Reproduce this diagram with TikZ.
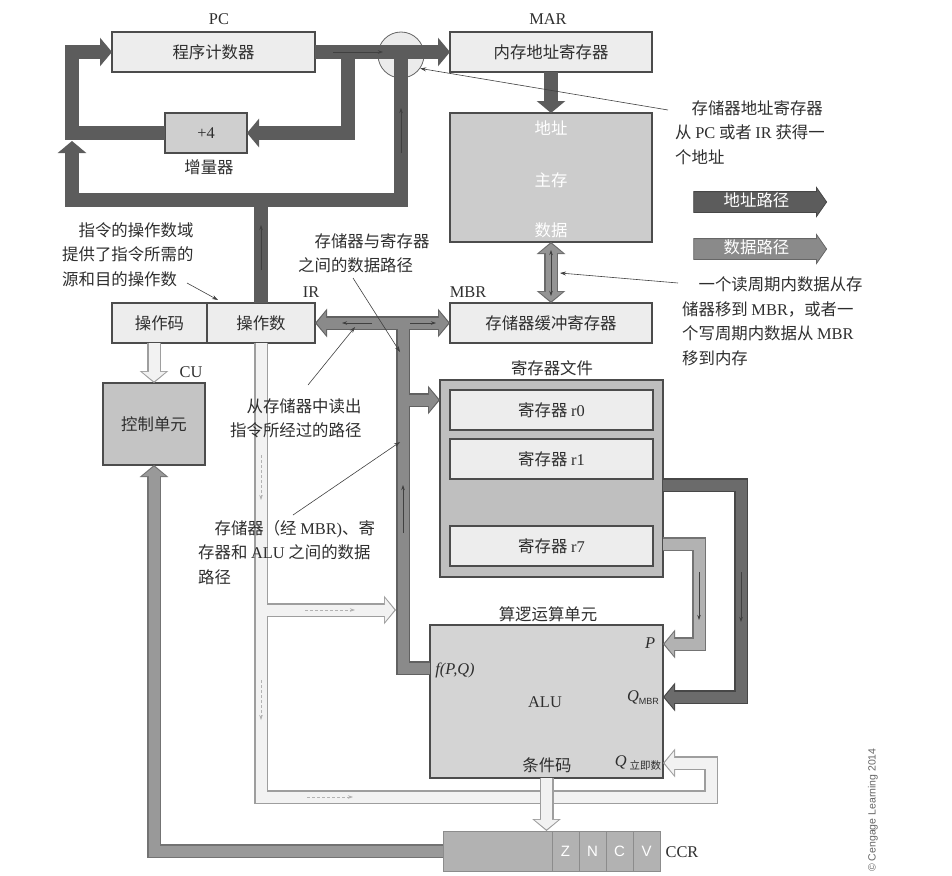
\documentclass[tikz,border=0pt]{standalone}
\usepackage{fontspec}
\setmainfont{Noto Sans CJK SC}
\newfontfamily\latfont{Liberation Serif}
\newfontfamily\sanslat{Liberation Sans}
\usetikzlibrary{arrows.meta, positioning, calc, shapes.arrows}

\begin{document}
\begin{tikzpicture}[
    x=1pt, y=-1pt,
    every node/.style = {font=\fontsize{16.4}{24.5}\selectfont, text=black!82, inner sep=0pt},
    box/.style      = {draw=black!70, line width=1.1pt, fill=black!7, outer sep=0pt},
    gbox/.style     = {box, fill=black!20},
    tag/.style      = {font=\fontsize{16.4}{24.5}\selectfont\latfont},
    note/.style     = {align=left, anchor=north west},
    cell/.style     = {draw=black!45, line width=0.6pt, fill=black!30, outer sep=0pt,
                       minimum width=27pt, minimum height=40pt, text=white,
                       font=\fontsize{15}{15}\selectfont\sanslat},
    abus/.style     = {line width=14pt, draw=black!64, >={Triangle[length=12pt,width=28pt]}, ->},
    busout/.style   = {line width=14pt, draw=#1, >={Triangle[length=12pt,width=28pt]}, ->},
    busin/.style    = {line width=11pt, draw=#1, shorten >=1.6pt,
                       >={Triangle[length=9.5pt,width=23pt]}, ->},
    flowmark/.style = {draw=black!75, line width=0.7pt, >={Stealth[length=5pt,width=3.5pt]}, ->},
    flowlite/.style = {flowmark, draw=black!30, densely dashed},
    callout/.style  = {draw=black!75, line width=0.6pt, -{Stealth[length=6pt,width=4pt]}},
    legend/.style   = {single arrow, single arrow head extend=4pt, single arrow tip angle=110,
                       minimum height=133pt, text height=11pt, text depth=2pt,
                       inner ysep=3.5pt, line width=0.8pt, text=white},
]
\useasboundingbox (0,0) rectangle (952,875);

%% Registers and units
\node[box, minimum width=203pt, minimum height=40pt] (pc)  at (213.5,52) {程序计数器};
\node[tag] (pctag) at (219,19) {PC};
\node[box, minimum width=202pt, minimum height=40pt] (mar) at (551,52) {内存地址寄存器};
\node[tag] (martag) at (548,19) {MAR};
\node[circle, draw=black!60, line width=0.8pt, fill=black!8, minimum size=46pt] (mux) at (401,55) {};
\node[gbox, fill=black!19, minimum width=82pt, minimum height=40pt] (inc) at (206,133) {\latfont +4};
\node (inctag) at (209,167) {增量器};

\node[gbox, minimum width=202pt, minimum height=129pt] (mem) at (551,177.5) {};
\node[text=white] (memaddr) at (551,128) {地址};
\node[text=white] (memmain) at (551,180) {主存};
\node[text=white] (memdata) at (551,230) {数据};

\node[box, minimum width=95pt, minimum height=40pt] (opc) at (159.5,323) {操作码};
\node[box, minimum width=108pt, minimum height=40pt, right=0pt of opc] (opd) {操作数};
\node[tag] (irtag) at (311,292) {IR};
\node[box, minimum width=202pt, minimum height=40pt] (mbr) at (551,323) {存储器缓冲寄存器};
\node[tag] (mbrtag) at (468,292) {MBR};

\node[gbox, fill=black!23, minimum width=102pt, minimum height=82pt] (cu) at (154,424) {控制单元};
\node[tag] (cutag) at (191,372) {CU};

\node[gbox, fill=black!25, minimum width=223pt, minimum height=197pt] (rf) at (551.5,478.5) {};
\node (rftag) at (552,368) {寄存器文件};
\node[box, minimum width=203pt, minimum height=40pt] (r0) at (551.5,410) {寄存器 {\latfont r0}};
\node[box, minimum width=203pt, minimum height=40pt] (r1) at (551.5,459) {寄存器 {\latfont r1}};
\node[box, minimum width=203pt, minimum height=40pt] (r7) at (551.5,546) {寄存器 {\latfont r7}};

\node[gbox, fill=black!17, minimum width=233pt, minimum height=153pt] (alu) at (546.5,701.5) {};
\node (alutag) at (548,614) {算逻运算单元};
\node[tag] (alutext) at (545,702) {ALU};
\node (alufpq) at (455,670) {\latfont\itshape f(P,Q)};
\node (alup) at (650,643) {\latfont\itshape P};
\node (aluqm) at (643,698) {{\latfont\itshape Q}\raisebox{-3pt}{\fontsize{9}{9}\selectfont\sanslat MBR}};
\node (aluqi) at (638,763) {{\latfont\itshape Q}\,\raisebox{-3pt}{\fontsize{10.5}{10.5}\selectfont 立即数}};
\node (alucc) at (547,765) {条件码};

\node[draw=black!45, line width=0.6pt, fill=black!30, outer sep=0pt,
      minimum width=217pt, minimum height=40pt] (ccr) at (551.5,851) {};
\node[cell] (flagz) at (565.5,851) {Z};
\node[cell] (flagn) at (592.5,851) {N};
\node[cell] (flagc) at (619.5,851) {C};
\node[cell] (flagv) at (646.5,851) {V};
\node[tag] (ccrtag) at (682,852) {CCR};

%% Legend
\node[legend, fill=black!64, draw=black!72] (lgaddr) at (756.5,202) {地址路径};
\node[legend, fill=black!46, draw=black!60] (lgdata) at (756.5,249) {数据路径};

%% Bus junctions
\coordinate (jinc)  at (348,52);
\coordinate (jleft) at (72,133);
\coordinate (jup)   at (72,141);
\coordinate (jir)   at (261,200);
\coordinate (jmux)  at (401,200);
\coordinate (jv)    at (403,323);
\coordinate (jrf)   at (403,400);
\coordinate (jfpq)  at (403,668);
\coordinate (jq1)   at (741,485);
\coordinate (jq2)   at (741,697);
\coordinate (jp1)   at (699,544);
\coordinate (jp2)   at (699,644);
\coordinate (jcu)   at (154,851);
\coordinate (jl1)   at (261,610);
\coordinate (jl2)   at (261,797);
\coordinate (jl3)   at (711,797);
\coordinate (jl4)   at (711,763);
\coordinate (jl5)   at (396,610);

%% Address paths
\draw[abus] (pc.east) -- (mar.west);
\draw[abus] (jinc) -- (jinc |- inc.east) -- (inc.east);
\draw[abus] (inc.west) -- (jleft) -- (jleft |- pc.west) -- (pc.west);
\draw[abus, -] (opd.north) -- (jir) -- (jmux) -- (jmux |- pc.east);
\draw[abus] (jir) -- (jir -| jup) -- (jup);
\draw[abus] (mar.south) -- (mem.north);

%% Data paths: outline first, then inside
\draw[busout=black!62, -] (alu.west |- jfpq) -- (jfpq) -- (jv);
\draw[busout=black!62, <->] (opd.east) -- (mbr.west);
\draw[busout=black!62] (jrf) -- (jrf -| rf.west);
\draw[busout=black!58, <->] (mem.south) -- (mbr.north);
\draw[busout=black!72] (rf.east |- jq1) -- (jq1) -- (jq2) -- (jq2 -| alu.east);
\draw[busout=black!55] (rf.east |- jp1) -- (jp1) -- (jp2) -- (jp2 -| alu.east);
\draw[busout=black!55] (ccr.west) -- (jcu) -- (cu.south);

\draw[busin=black!46, -] (alu.west |- jfpq) -- (jfpq) -- (jv);
\draw[busin=black!46, <->, shorten <=1.6pt] (opd.east) -- (mbr.west);
\draw[busin=black!46] (jrf) -- (jrf -| rf.west);
\draw[busin=black!42, <->, shorten <=1.6pt] (mem.south) -- (mbr.north);
\draw[busin=black!58] (rf.east |- jq1) -- (jq1) -- (jq2) -- (jq2 -| alu.east);
\draw[busin=black!30] (rf.east |- jp1) -- (jp1) -- (jp2) -- (jp2 -| alu.east);
\draw[busin=black!40] (ccr.west) -- (jcu) -- (cu.south);

%% Light paths (operand, control, condition code)
\draw[busout=black!38] (opd.south) -- (jl2) -- (jl3) -- (jl4) -- (jl4 -| alu.east);
\draw[busout=black!38] (jl1) -- (jl5);
\draw[busout=black!38] (cu.north |- opc.south) -- (cu.north);
\draw[busin=black!5] (opd.south) -- (jl2) -- (jl3) -- (jl4) -- (jl4 -| alu.east);
\draw[busin=black!5] (jl1) -- (jl5);
\draw[busin=black!5] (cu.north |- opc.south) -- (cu.north);
\draw[busout=black!38] (alu.south) -- (alu.south |- ccr.north);
\draw[busin=black!5] (alu.south) -- (alu.south |- ccr.north);

%% Direction marks inside the paths
\draw[flowmark] (jinc) ++(-15,0) -- ++(50,0);
\draw[flowmark] (jmux) ++(0,-47) -- ++(0,-45);
\draw[flowmark] (jir) ++(0,70) -- ++(0,-45);
\draw[flowmark] (opd.east) ++(57,0) -- ++(-30,0);
\draw[flowmark] (jv) ++(7,0) -- ++(26,0);
\draw[flowmark] (jfpq) ++(0,-135) -- ++(0,-48);
\draw[flowmark] (jp1) ++(0,28) -- ++(0,48);
\draw[flowmark] (jq1) ++(0,87) -- ++(0,50);
\draw[flowmark, <->] (mem.south) ++(0,8) -- ++(0,46);
\draw[flowlite] (jl1) ++(0,-155) -- ++(0,45);
\draw[flowlite] (jl1) ++(0,70) -- ++(0,40);
\draw[flowlite] (jl1) ++(44,0) -- ++(50,0);
\draw[flowlite] (jl2) ++(46,0) -- ++(46,0);

%% Notes
\node[note] (n1) at (675,100) {\hspace*{1em}存储器地址寄存器\\从 {\latfont PC} 或者 {\latfont IR} 获得一\\个地址};
\node[note] (n2) at (682,277) {\hspace*{1em}一个读周期内数据从存\\储器移到 {\latfont MBR}，或者一\\个写周期内数据从 {\latfont MBR}\\移到内存};
\node[note] (n3) at (62,222)  {\hspace*{1em}指令的操作数域\\提供了指令所需的\\源和目的操作数};
\node[note] (n4) at (298,233) {\hspace*{1em}存储器与寄存器\\之间的数据路径};
\node[note] (n5) at (230,398) {\hspace*{1em}从存储器中读出\\指令所经过的路径};
\node[note] (n6) at (198,520) {\hspace*{1em}存储器（经 {\latfont MBR)}、寄\\存器和 {\latfont ALU} 之间的数据\\路径};

\coordinate (c1) at (668,110);
\coordinate (c2) at (678,283);  \coordinate (c2e) at (560,273);
\coordinate (c3) at (187,283);  \coordinate (c3e) at (218,300);
\coordinate (c4) at (353,278);  \coordinate (c4e) at (400,352);
\coordinate (c5) at (308,385);  \coordinate (c5e) at (355,327);
\coordinate (c6) at (293,515);  \coordinate (c6e) at (400,442);
\draw[callout] (c1) -- (mux.-35);
\draw[callout] (c2) -- (c2e);
\draw[callout] (c3) -- (c3e);
\draw[callout] (c4) -- (c4e);
\draw[callout] (c5) -- (c5e);
\draw[callout] (c6) -- (c6e);

\node[rotate=90, font=\fontsize{10.5}{12}\selectfont\sanslat, text=black!60] (credit) at (873,810)
    {\textcopyright{} Cengage Learning 2014};

\end{tikzpicture}
\end{document}
